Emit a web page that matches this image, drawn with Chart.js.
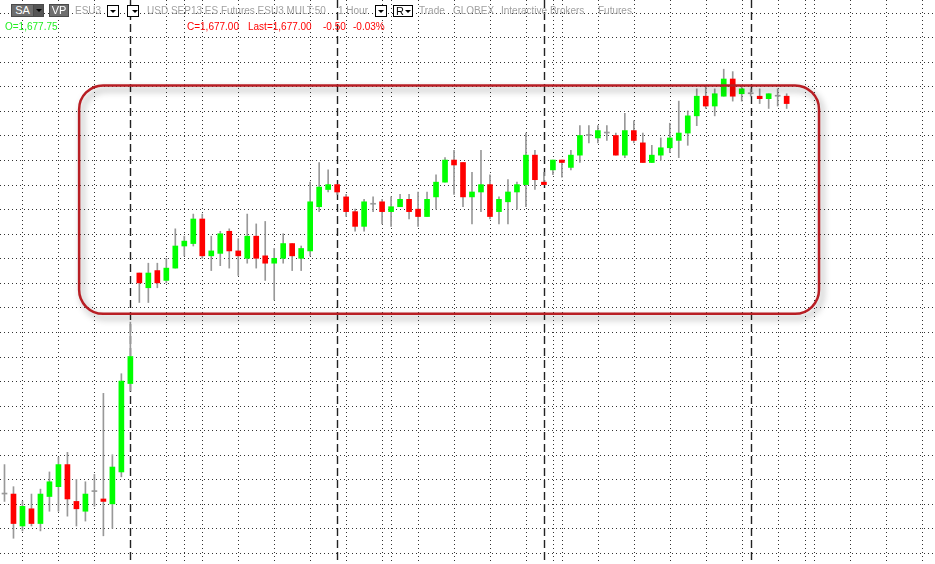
<!DOCTYPE html>
<html>
<head>
<meta charset="utf-8">
<script src="https://cdn.jsdelivr.net/npm/chart.js@4.4.1/dist/chart.umd.min.js"></script>
<style>
  html, body { margin: 0; padding: 0; background: #fff; }
  #wrap { position: relative; width: 935px; height: 564px; overflow: hidden; }
  #wrap canvas { position: absolute; left: 0; top: 0; }
  .t { position: absolute; font: 10px "Liberation Sans", Arial, sans-serif; line-height: 13px; white-space: pre; color: #a0a0a0; }
  .btn { position: absolute; top: 4px; height: 13px; background: #6e6e6e; border: 1px solid #4a4a4a; box-sizing: border-box;
         color: #fff; font: 11px "Liberation Sans", Arial, sans-serif; line-height: 11px; text-align: center; }
  .dd { position: absolute; top: 5px; width: 12px; height: 12px; background: #fff; border: 1px solid #000; box-sizing: border-box; }
  .tri { position: absolute; width: 0; height: 0; border-left: 3px solid transparent; border-right: 3px solid transparent; border-top: 3px solid #000; }
</style>
</head>
<body>
<div id="wrap">
  <canvas id="chart" width="935" height="564"></canvas>

  <div class="btn" style="left:11px;width:23px;">SA</div>
  <div class="btn" style="left:33px;width:11px;background:#555;"><div class="tri" style="left:2px;top:4px;"></div></div>
  <div class="btn" style="left:49px;width:20px;">VP</div>
  <div class="t" style="left:75px;top:4px;">ESU3</div>
  <div class="dd" style="left:107px;"><div class="tri" style="left:2px;top:4px;"></div></div>
  <div class="dd" style="left:127px;"><div class="tri" style="left:4px;top:4px;"></div></div>
  <div class="t" style="left:147px;top:4px;">USD SEP13 ES Futures ESU3 MULT:50</div>
  <div class="t" style="left:338px;top:4px;">1 Hour</div>
  <div class="dd" style="left:375px;"><div class="tri" style="left:2px;top:4px;"></div></div>
  <div class="dd" style="left:393px;width:20px;"><span class="t" style="left:2px;top:-1px;color:#000;font-size:11px;">R</span><div class="tri" style="left:11px;top:4px;"></div></div>
  <div class="t" style="left:419px;top:4px;">Trade</div>
  <div class="t" style="left:453px;top:4px;">GLOBEX</div>
  <div class="t" style="left:501px;top:4px;">Interactive Brokers</div>
  <div class="t" style="left:598px;top:4px;">Futures</div>

  <div class="t" style="left:5px;top:20px;color:#22ee22;">O=1,677.75</div>
  <div class="t" style="left:187px;top:20px;color:#ff0000;">C=1,677.00</div>
  <div class="t" style="left:248px;top:20px;color:#ff0000;">Last=1,677.00</div>
  <div class="t" style="left:323px;top:20px;color:#ff0000;">-0.50</div>
  <div class="t" style="left:353px;top:20px;color:#ff0000;">-0.03%</div>
</div>

<script>
// ESU3, 1 hour bars (one slot per bar, empty slots to the right)
const slots = Array.from({ length: 104 }, (_, i) => String(i));

const opens = [
  1637.25, 1637.25, 1634.0, 1635.75, 1634.25, 1637.0, 1638.0, 1640.25, 1636.5, 1635.5,
  1637.5, 1636.75, 1636.25, 1639.5, 1648.5, 1659.75, 1658.25, 1660.0, 1659.0, 1660.25,
  1662.5, 1662.75, 1665.25, 1661.5, 1661.75, 1664.0, 1662.0, 1661.25, 1663.5, 1661.5,
  1660.75, 1661.25, 1662.75, 1661.25, 1662.0, 1666.5, 1668.25, 1668.75, 1667.5, 1666.0,
  1664.5, 1666.75, 1667.0, 1666.0, 1666.5, 1667.25, 1666.25, 1665.5, 1667.5, 1669.0,
  1671.25, 1671.0, 1667.5, 1668.0, 1668.75, 1666.0, 1667.0, 1668.0, 1668.75, 1671.75,
  1669.0, 1670.25, 1671.25, 1670.5, 1671.75, 1673.75, 1673.5, 1674.0, 1673.75, 1671.75,
  1674.25, 1673.0, 1671.0, 1671.75, 1672.5, 1673.25, 1674.0, 1675.75, 1677.75, 1676.75,
  1677.75, 1679.5, 1678.0, 1678.0, 1677.75, 1677.5, 1677.75, 1677.75
];
const highs = [
  1640.25, 1638.0, 1636.5, 1637.25, 1637.75, 1639.5, 1641.0, 1641.5, 1638.75, 1638.5,
  1639.25, 1647.5, 1641.25, 1649.5, 1654.75, 1659.75, 1660.75, 1660.75, 1661.25, 1664.25,
  1663.5, 1665.75, 1665.75, 1663.5, 1664.0, 1664.25, 1663.25, 1665.75, 1664.75, 1665.0,
  1662.25, 1663.75, 1662.75, 1662.5, 1669.0, 1671.0, 1670.25, 1668.75, 1667.75, 1666.25,
  1667.25, 1667.5, 1667.25, 1667.5, 1667.75, 1667.75, 1668.0, 1668.0, 1669.75, 1671.5,
  1672.25, 1671.0, 1670.0, 1672.25, 1669.75, 1667.5, 1669.25, 1669.0, 1674.0, 1672.25,
  1670.0, 1671.25, 1671.25, 1672.25, 1674.75, 1674.75, 1674.75, 1674.75, 1674.0, 1676.0,
  1675.25, 1674.0, 1672.75, 1673.5, 1675.0, 1677.25, 1676.25, 1678.5, 1678.75, 1678.5,
  1680.5, 1680.25, 1678.75, 1678.5, 1678.5, 1678.0, 1678.5, 1678.0
];
const lows = [
  1636.5, 1632.75, 1633.5, 1634.0, 1633.5, 1635.5, 1635.5, 1635.0, 1634.0, 1634.5,
  1636.0, 1633.0, 1633.75, 1639.0, 1647.75, 1656.75, 1656.75, 1658.25, 1658.75, 1660.25,
  1661.5, 1662.5, 1661.25, 1660.0, 1660.5, 1660.25, 1659.5, 1660.75, 1660.25, 1659.0,
  1657.0, 1660.75, 1660.0, 1660.0, 1661.5, 1666.0, 1668.0, 1667.75, 1665.5, 1664.0,
  1664.0, 1666.0, 1664.75, 1664.5, 1666.5, 1665.25, 1664.5, 1665.5, 1666.25, 1669.0,
  1667.75, 1666.5, 1664.75, 1666.0, 1665.25, 1664.75, 1664.75, 1666.25, 1666.5, 1668.25,
  1668.75, 1669.75, 1669.5, 1670.25, 1671.0, 1673.0, 1673.0, 1673.25, 1671.75, 1671.5,
  1673.0, 1671.0, 1671.0, 1671.25, 1672.0, 1671.5, 1672.75, 1674.75, 1676.5, 1675.75,
  1677.75, 1677.25, 1677.25, 1677.75, 1677.0, 1676.5, 1676.75, 1676.5
];
const closes = [
  1637.25, 1634.25, 1636.0, 1634.25, 1637.25, 1638.5, 1640.25, 1636.75, 1635.75, 1637.25,
  1637.5, 1636.5, 1640.0, 1648.75, 1651.25, 1658.75, 1659.75, 1658.75, 1660.25, 1662.5,
  1663.0, 1665.25, 1661.5, 1662.0, 1663.75, 1662.0, 1661.5, 1663.5, 1661.25, 1660.75,
  1661.25, 1662.75, 1661.5, 1662.25, 1667.0, 1668.5, 1668.75, 1668.0, 1666.0, 1664.5,
  1667.0, 1666.75, 1666.0, 1666.5, 1667.25, 1666.0, 1665.5, 1667.25, 1669.0, 1671.25,
  1670.75, 1667.5, 1668.0, 1668.75, 1665.5, 1667.25, 1668.0, 1668.75, 1671.75, 1669.25,
  1668.75, 1671.25, 1671.0, 1671.75, 1673.75, 1673.75, 1674.25, 1674.0, 1671.75, 1674.25,
  1673.25, 1671.0, 1671.75, 1672.5, 1673.5, 1674.0, 1675.75, 1677.75, 1676.75, 1678.0,
  1679.5, 1677.75, 1678.5, 1678.0, 1677.5, 1678.0, 1677.75, 1677.0
];

// price grid levels (horizontal dotted lines)
const gridLevels = [
  1631.25, 1633.75, 1636.25, 1638.75, 1641.25, 1643.75, 1646.25, 1648.75, 1651.25, 1653.75,
  1656.25, 1658.75, 1661.25, 1663.75, 1666.25, 1668.75, 1671.25, 1673.75, 1676.25, 1678.75,
  1681.25, 1683.75, 1686.25
];
// time grid (dotted) and session starts (dashed), as bar slots
const timeLines = [2, 6, 10, 18, 20, 22, 26, 30, 34, 38, 42, 43, 46, 50, 54, 58, 61, 62, 66, 70, 74, 78, 82, 86, 89, 90, 94, 98, 102];
const sessionLines = [14, 37, 60, 83];

// highlighted range (slots / prices)
const box = { from: 8.3, to: 90.6, low: 1655.6, high: 1678.85, radius: 24 };

const UP = '#00ff00', DOWN = '#ff0000', FLAT = '#999999', WICK = '#999999';

const bodyColors = opens.map((o, i) => closes[i] > o ? UP : (closes[i] < o ? DOWN : FLAT));

const chartDecor = {
  id: 'chartDecor',
  beforeDatasetsDraw(chart) {
    const { ctx, chartArea: a, scales: { x, y } } = chart;
    ctx.save();
    ctx.lineWidth = 1;
    ctx.strokeStyle = '#333';
    ctx.setLineDash([1, 3]);
    gridLevels.forEach(v => {
      const py = Math.round(y.getPixelForValue(v)) + 0.5;
      ctx.beginPath();
      ctx.moveTo(a.left, py);
      ctx.lineTo(a.right, py);
      ctx.stroke();
    });
    timeLines.forEach(i => {
      const px = Math.round(x.getPixelForValue(i)) + 0.5;
      ctx.beginPath();
      ctx.moveTo(px, a.top);
      ctx.lineTo(px, a.bottom);
      ctx.stroke();
    });
    ctx.strokeStyle = '#222';
    ctx.lineWidth = 1.4;
    ctx.setLineDash([8, 4]);
    sessionLines.forEach(i => {
      const px = Math.round(x.getPixelForValue(i)) + 0.5;
      ctx.beginPath();
      ctx.moveTo(px, a.top);
      ctx.lineTo(px, a.bottom);
      ctx.stroke();
    });
    ctx.restore();
  },
  afterDatasetsDraw(chart) {
    const { ctx, scales: { x, y } } = chart;
    const l = x.getPixelForValue(box.from), r = x.getPixelForValue(box.to);
    const t = y.getPixelForValue(box.high), b = y.getPixelForValue(box.low);
    ctx.save();
    ctx.beginPath();
    ctx.roundRect(l, t, r - l, b - t, box.radius);
    ctx.lineWidth = 2.5;
    ctx.strokeStyle = '#b81e24';
    ctx.shadowColor = 'rgba(0,0,0,0.4)';
    ctx.shadowBlur = 7;
    ctx.shadowOffsetX = 3;
    ctx.shadowOffsetY = 4;
    ctx.stroke();
    ctx.restore();
  }
};

new Chart(document.getElementById('chart'), {
  type: 'bar',
  data: {
    labels: slots,
    datasets: [
      {
        label: 'Range',
        data: lows.map((l, i) => [l, highs[i]]),
        backgroundColor: WICK,
        barThickness: 1,
        grouped: false,
        order: 2
      },
      {
        label: 'Body',
        data: opens.map((o, i) => [o, closes[i]]),
        backgroundColor: bodyColors,
        barThickness: 5,
        minBarLength: 1,
        grouped: false,
        order: 1
      }
    ]
  },
  options: {
    responsive: false,
    animation: false,
    layout: { padding: 0 },
    plugins: { legend: { display: false }, tooltip: { enabled: false } },
    scales: {
      x: { type: 'category', display: false, offset: true, grid: { display: false } },
      y: { type: 'linear', display: false, min: 1630.13, max: 1687.543, grid: { display: false } }
    }
  },
  plugins: [chartDecor]
});
</script>
</body>
</html>
